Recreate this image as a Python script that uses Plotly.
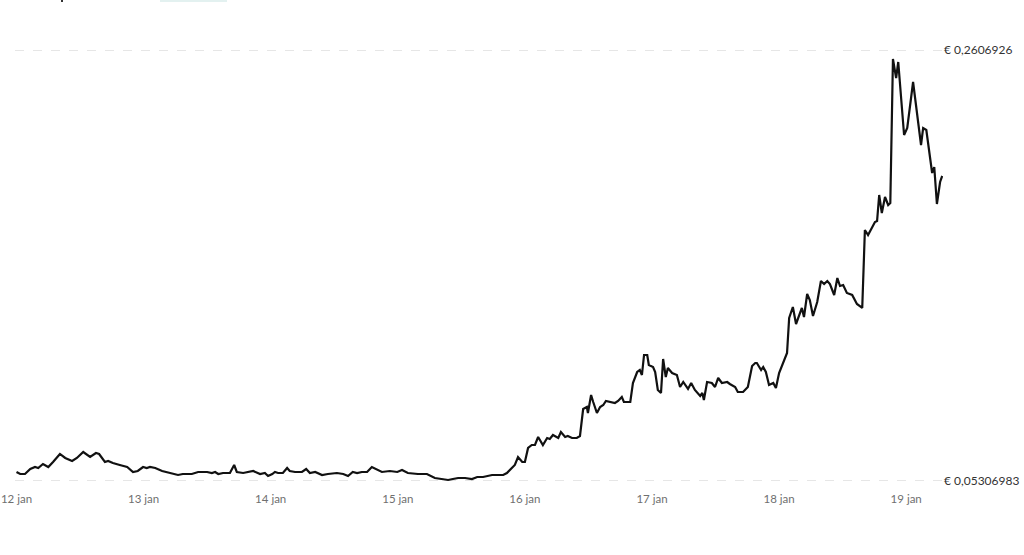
#!/usr/bin/env python3
# price chart 12-19 jan, line with min/max labels on the right

import pandas as pd
import plotly.graph_objects as go

# --- Data ---
# hours since 12 jan 00:00 and price in euro
hours = [
    0.0, 0.7, 1.6, 2.6, 3.5, 4.1, 5.0, 6.0, 6.9, 8.2,
    9.2, 10.5, 11.4, 12.6, 13.9, 15.0, 15.6, 16.7, 17.3, 18.2,
    19.5, 20.9, 22.0, 22.9, 23.9, 24.6, 25.2, 26.2, 27.5, 29.0,
    30.5, 31.4, 33.1, 34.3, 36.0, 36.9, 37.5, 38.1, 39.0, 40.3,
    41.1, 41.6, 42.8, 44.7, 46.0, 46.9, 47.5, 48.3, 48.8, 49.4,
    50.3, 51.1, 51.6, 52.6, 53.9, 54.7, 55.4, 56.4, 57.7, 58.8,
    60.5, 61.7, 62.6, 63.5, 64.3, 65.2, 66.2, 67.1, 68.1, 69.0,
    70.5, 71.9, 72.8, 73.9, 75.8, 77.5, 79.0, 80.4, 81.5, 82.4,
    83.4, 84.7, 86.0, 87.0, 88.1, 89.8, 91.9, 92.6, 93.6, 94.1,
    94.7, 95.5, 96.0, 96.6, 97.3, 97.9, 98.5, 99.4, 100.2, 100.7,
    101.3, 102.3, 102.8, 103.6, 104.1, 104.9, 105.8, 106.4, 107.0, 107.7,
    107.9, 108.5, 108.9, 109.6, 110.2, 110.8, 111.3, 112.5, 113.0, 113.6,
    114.3, 114.7, 115.9, 116.4, 117.2, 117.7, 118.1, 118.5, 119.1, 119.4,
    120.2, 120.6, 121.1, 121.7, 122.1, 122.6, 123.0, 123.8, 124.7, 125.3,
    125.9, 126.8, 127.4, 128.1, 129.1, 129.5, 129.8, 130.4, 131.3, 131.9,
    132.5, 133.2, 134.2, 134.7, 135.7, 136.2, 137.2, 138.1, 138.9, 139.5,
    139.8, 140.6, 141.0, 141.5, 142.1, 142.9, 143.4, 144.0, 144.7, 145.5,
    145.9, 146.6, 147.2, 148.3, 148.7, 149.3, 149.8, 150.4, 151.2, 151.9,
    152.5, 153.1, 153.6, 154.4, 155.0, 155.5, 156.1, 156.8, 157.8, 158.7,
    159.7, 160.2, 160.8, 162.1, 162.5, 162.9, 163.4, 164.0, 164.6, 165.0,
    165.5, 166.1, 166.5, 167.6, 168.2, 169.3, 170.8, 171.2, 171.8, 172.9,
    173.3, 173.8, 174.4, 174.8,
]
prices = [
    0.05741, 0.05644, 0.05644, 0.05885, 0.05981, 0.05933, 0.06126, 0.05981, 0.06222, 0.06608,
    0.06415, 0.06270, 0.06415, 0.06704, 0.06463, 0.06656, 0.06608, 0.06222, 0.06270, 0.06174,
    0.06078, 0.05981, 0.05741, 0.05789, 0.05981, 0.05933, 0.05981, 0.05933, 0.05789, 0.05692,
    0.05596, 0.05644, 0.05644, 0.05741, 0.05741, 0.05692, 0.05741, 0.05644, 0.05692, 0.05692,
    0.06078, 0.05741, 0.05692, 0.05789, 0.05644, 0.05692, 0.05548, 0.05644, 0.05741, 0.05692,
    0.05692, 0.05933, 0.05789, 0.05741, 0.05741, 0.05885, 0.05692, 0.05741, 0.05596, 0.05644,
    0.05692, 0.05644, 0.05548, 0.05741, 0.05692, 0.05741, 0.05741, 0.05981, 0.05837, 0.05741,
    0.05789, 0.05741, 0.05837, 0.05692, 0.05644, 0.05644, 0.05452, 0.05403, 0.05355, 0.05403,
    0.05452, 0.05452, 0.05403, 0.05500, 0.05500, 0.05596, 0.05596, 0.05692, 0.05981, 0.06078,
    0.06463, 0.06222, 0.06222, 0.06897, 0.07041, 0.07041, 0.07427, 0.07041, 0.07378, 0.07330,
    0.07523, 0.07378, 0.07667, 0.07427, 0.07475, 0.07378, 0.07378, 0.07475, 0.08775, 0.08872,
    0.08583, 0.09450, 0.09113, 0.08583, 0.08872, 0.08968, 0.09161, 0.09113, 0.09064, 0.09161,
    0.09353, 0.09113, 0.09113, 0.10028, 0.10558, 0.10654, 0.10413, 0.11377, 0.11377, 0.10895,
    0.10799, 0.10558, 0.09691, 0.09546, 0.11184, 0.10317, 0.10750, 0.10510, 0.10413, 0.09835,
    0.10076, 0.09739, 0.10028, 0.09691, 0.09402, 0.09546, 0.09209, 0.10076, 0.10028, 0.09835,
    0.10269, 0.10028, 0.10076, 0.09980, 0.09835, 0.09594, 0.09594, 0.09835, 0.10847, 0.10991,
    0.10991, 0.10654, 0.10799, 0.10558, 0.09931, 0.10028, 0.09787, 0.10510, 0.10991, 0.11473,
    0.13159, 0.13689, 0.12870, 0.13641, 0.13207, 0.14315, 0.14026, 0.13255, 0.13930, 0.14941,
    0.14797, 0.14941, 0.14797, 0.14267, 0.15086, 0.14701, 0.14749, 0.14363, 0.14267, 0.13834,
    0.13641, 0.17398, 0.17157, 0.17784, 0.17832, 0.19084, 0.18217, 0.18988, 0.18602, 0.18699,
    0.25636, 0.24720, 0.25491, 0.21974, 0.22312, 0.24527, 0.21493, 0.22312, 0.22215, 0.20144,
    0.20433, 0.18651, 0.19711, 0.20000,
]

start = pd.Timestamp("2025-01-12 00:00")
times = start + pd.to_timedelta(hours, unit="h")

# axis labels
tick_days = pd.date_range("2025-01-12", "2025-01-19", freq="D")
tick_text = ["12 jan", "13 jan", "14 jan", "15 jan", "16 jan", "17 jan", "18 jan", "19 jan"]
y_ticks = [0.05306983, 0.2606926]
y_text = ["€ 0,05306983", "€ 0,2606926"]

fig = go.Figure()
fig.add_trace(go.Scatter(
    x=times, y=prices, mode="lines",
    line=dict(color="#111111", width=2.2),
    hoverinfo="skip", showlegend=False,
))

fig.update_xaxes(
    range=[start - pd.Timedelta(minutes=17), start + pd.Timedelta(hours=174, minutes=57)],
    tickvals=tick_days, ticktext=tick_text, automargin=False,
    showgrid=False, zeroline=False, showline=False, ticks="",
    ticklabelstandoff=5,
    tickfont=dict(family="Lato", size=11.5, color="#6f6f6f"),
)
fig.update_yaxes(
    side="right", range=[0.05114, 0.26310], automargin=False,
    tickvals=y_ticks, ticktext=y_text,
    showgrid=True, gridcolor="#e6e6e6", griddash="dash", gridwidth=1,
    zeroline=False, showline=False, ticks="",
    tickfont=dict(family="Lato", size=12, color="#333333"),
)

# cut-off bits of the page header at the very top
fig.add_shape(type="line", xref="paper", yref="paper",
              x0=(160 - 15) / 928, x1=(227 - 15) / 928, y0=484 / 440, y1=484 / 440,
              line=dict(color="#e3f1f0", width=2))
fig.add_shape(type="line", xref="paper", yref="paper",
              x0=(61 - 15) / 928, x1=(63 - 15) / 928, y0=484 / 440, y1=484 / 440,
              line=dict(color="#333333", width=2))

fig.update_layout(
    width=1024, height=555,
    margin=dict(l=15, r=81, t=45, b=70),
    paper_bgcolor="white", plot_bgcolor="white",
)

# drop the default 8px body margin so the figure fills the window
fig.write_html("out.html", config={"displayModeBar": False},
               post_script="document.body.style.margin = '0px';")
